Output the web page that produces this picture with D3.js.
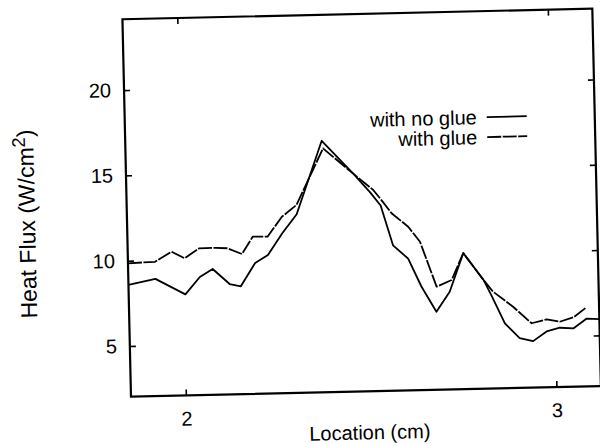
<!DOCTYPE html>
<html>
<head>
<meta charset="utf-8">
<script src="https://cdn.jsdelivr.net/npm/d3@7"></script>
<style>
  html, body { margin: 0; padding: 0; background: #fff; }
  svg { display: block; }
  text { font-family: "Liberation Sans", Arial, Helvetica, sans-serif; fill: #000; }
</style>
</head>
<body>
<svg id="chart" width="600" height="444"></svg>
<script>
// Heat flux along the sample, with and without glue
const noGlueLocation = [1.852, 1.925, 2.005, 2.045, 2.08, 2.125, 2.155, 2.195, 2.23, 2.27, 2.31, 2.382, 2.465, 2.509, 2.537, 2.568, 2.608, 2.642, 2.681, 2.718, 2.757, 2.81, 2.83, 2.865, 2.904, 2.94, 2.977, 3.013, 3.05, 3.086, 3.12];
const noGlueFlux     = [8.58, 8.9, 7.95, 8.95, 9.4, 8.5, 8.35, 9.7, 10.15, 11.4, 12.5, 16.77, 14.8, 13.7, 12.9, 10.55, 9.75, 8.1, 6.6, 7.75, 10.0, 8.4, 7.5, 5.83, 4.95, 4.75, 5.3, 5.5, 5.45, 6.0, 5.95];

const glueLocation = [1.852, 1.925, 1.97, 2.005, 2.045, 2.09, 2.12, 2.16, 2.19, 2.23, 2.27, 2.31, 2.385, 2.465, 2.518, 2.54, 2.566, 2.61, 2.641, 2.683, 2.724, 2.757, 2.81, 2.835, 2.888, 2.937, 2.978, 3.013, 3.05, 3.086];
const glueFlux     = [9.85, 9.9, 10.47, 10.07, 10.63, 10.64, 10.6, 10.24, 11.24, 11.22, 12.37, 13.04, 16.32, 14.8, 13.82, 13.2, 12.43, 11.62, 10.72, 8.07, 8.44, 10.0, 8.4, 7.7, 6.79, 5.8, 6.01, 5.85, 6.09, 6.66];

const seriesNames = ["with no glue", "with glue"];
const xTickValues = [2, 3];
const yTickValues = [5, 10, 15, 20];
const xDomain = [1.852, 3.12];
const yDomain = [2.03, 24.15];

const W = 470, H = 377.5;
const originX = 131, originY = 396.7;   // bottom-left corner of the frame
const tilt = -1.3;                      // the whole page sits slightly askew

const svg = d3.select("#chart");
const g = svg.append("g")
  .attr("transform", `rotate(${tilt}, ${originX}, ${originY}) translate(${originX}, ${originY - H})`);

const x = d3.scaleLinear().domain(xDomain).range([0, W]);
const y = d3.scaleLinear().domain(yDomain).range([H, 0]);

g.append("clipPath").attr("id", "plotClip")
  .append("rect").attr("width", W).attr("height", H);

// axes with inward ticks, mirrored on top and right
const fontSize = 20;
function styleAxis(sel) {
  sel.select(".domain").remove();
  sel.selectAll(".tick line").attr("stroke", "#000").attr("stroke-width", 1.6);
  sel.selectAll(".tick text").attr("font-size", fontSize).attr("font-family", "Liberation Sans, Arial, sans-serif").attr("fill", "#000");
}
g.append("g").attr("transform", `translate(0,${H})`)
  .call(d3.axisBottom(x).tickValues(xTickValues).tickSize(-6).tickPadding(16).tickFormat(d3.format("d")))
  .call(styleAxis);
g.append("g")
  .call(d3.axisTop(x).tickValues(xTickValues).tickSize(-6).tickFormat(""))
  .call(styleAxis);
g.append("g")
  .call(d3.axisLeft(y).tickValues(yTickValues).tickSize(-6).tickPadding(13).tickFormat(d3.format("d")))
  .call(styleAxis);
g.append("g").attr("transform", `translate(${W},0)`)
  .call(d3.axisRight(y).tickValues(yTickValues).tickSize(-6).tickFormat(""))
  .call(styleAxis);

// frame
g.append("rect").attr("width", W).attr("height", H)
  .attr("fill", "none").attr("stroke", "#000").attr("stroke-width", 2.2);

// curves
const line = d3.line().x(d => x(d[0])).y(d => y(d[1]));
const series = [
  { name: seriesNames[0], pts: d3.zip(noGlueLocation, noGlueFlux), dash: null },
  { name: seriesNames[1], pts: d3.zip(glueLocation, glueFlux), dash: "14,1.5" }
];
const plot = g.append("g").attr("clip-path", "url(#plotClip)");
series.forEach(s => {
  plot.append("path").datum(s.pts)
    .attr("d", line)
    .attr("fill", "none").attr("stroke", "#000").attr("stroke-width", 1.8)
    .attr("stroke-linejoin", "round")
    .attr("stroke-dasharray", s.dash);
});

// legend
const legendRight = 352, legendSampleLen = 40, legendTop = 106, legendStep = 20;
series.forEach((s, i) => {
  const ly = legendTop + i * legendStep;
  g.append("text").attr("x", legendRight).attr("y", ly).attr("dy", "0.35em")
    .attr("text-anchor", "end").attr("font-size", fontSize).text(s.name);
  g.append("line")
    .attr("x1", legendRight + 10).attr("x2", legendRight + 10 + legendSampleLen)
    .attr("y1", ly).attr("y2", ly)
    .attr("stroke", "#000").attr("stroke-width", 1.8)
    .attr("stroke-dasharray", s.dash);
});

// axis titles
g.append("text").attr("x", 238).attr("y", H + 48)
  .attr("text-anchor", "middle").attr("font-size", fontSize).text("Location (cm)");

const titleSize = 23;
const yTitle = g.append("text")
  .attr("transform", `translate(-92, ${H - 175}) rotate(-90)`)
  .attr("text-anchor", "middle").attr("font-size", titleSize);
yTitle.append("tspan").text("Heat Flux (W/cm");
yTitle.append("tspan").attr("dy", "-0.45em").attr("font-size", titleSize * 0.8).text("2");
yTitle.append("tspan").attr("dy", "0.36em").text(")");
</script>
</body>
</html>
